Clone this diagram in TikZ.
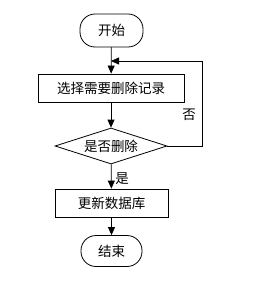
\documentclass[tikz,border=0pt]{standalone}
\usepackage{fontspec}
\newfontfamily\cjk{Noto Sans CJK SC}
\usetikzlibrary{shapes.geometric,arrows.meta}
\begin{document}
\begin{tikzpicture}[x=1pt,y=-1pt,
  every node/.style={font=\cjk\fontsize{13.5}{14}\selectfont},
  term/.style={draw,rounded corners=15pt,minimum width=63pt,minimum height=33pt,inner sep=0pt},
  proc/.style={draw,rectangle,minimum height=28pt,inner sep=0pt},
  dec/.style={draw,diamond,aspect=3.2,minimum width=112pt,minimum height=36pt,inner sep=0pt},
  lbl/.style={inner sep=0pt},
  arr/.style={draw,line width=0.8pt,-{Triangle[length=8pt,width=7pt]}},
  line width=0.8pt]
\useasboundingbox (0,0) rectangle (256,287);
\node[term] (start) at (111.5,30.5) {开始};
\node[proc,minimum width=146pt] (sel) at (111,88) {选择需要删除记录};
\node[dec] (dec) at (111,146) {是否删除};
\node[proc,minimum width=113pt] (upd) at (111.5,203) {更新数据库};
\node[term,minimum width=61pt,minimum height=31pt] (end) at (111.5,251) {结束};
\coordinate (j) at (111,61);
\coordinate (c1) at (202,146);
\coordinate (c2) at (202,61);
\draw[arr] (start) -- (sel);
\draw[arr] (sel) -- (dec);
\draw[arr] (dec) -- (upd);
\draw[arr] (upd) -- (end);
\draw[arr] (dec.east) -- (c1) -- (c2) -- (j);
\node[lbl] (no) at (189,115) {否};
\node[lbl] (yes) at (122,179) {是};
\end{tikzpicture}
\end{document}
